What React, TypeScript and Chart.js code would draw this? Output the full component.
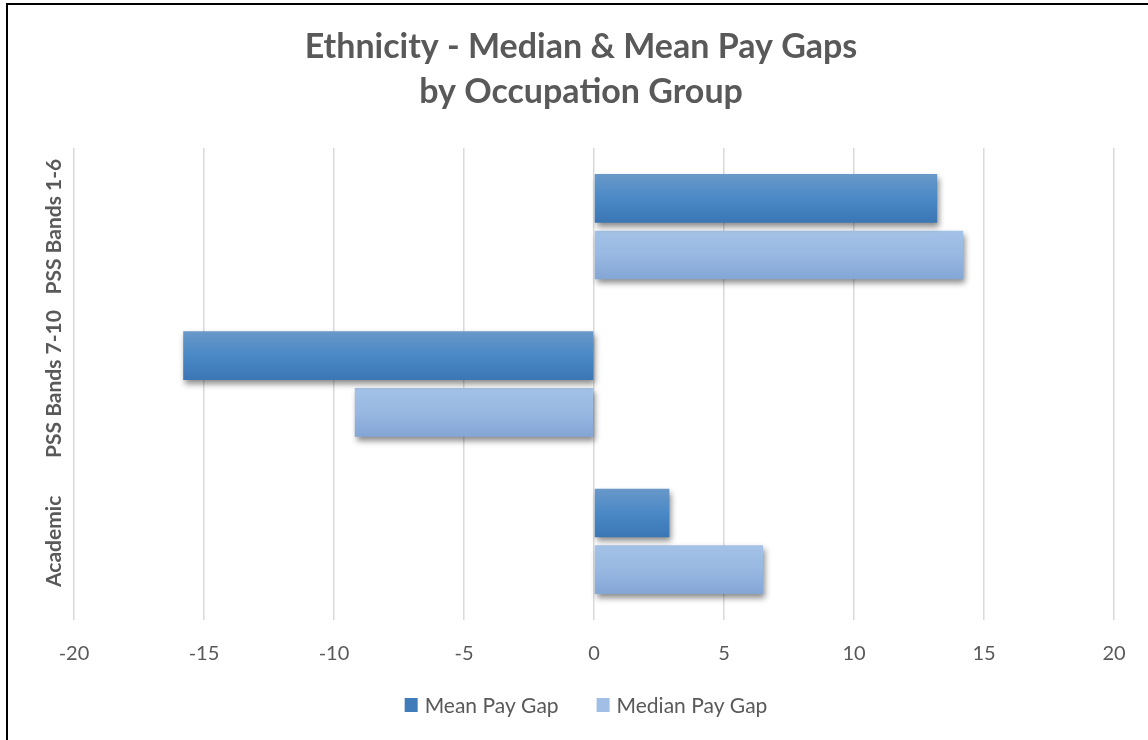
import React, { useEffect, useRef } from "react";
import { Chart, registerables } from "chart.js";

Chart.register(...registerables);

// Chart data
const categories = ["PSS Bands 1-6", "PSS Bands 7-10", "Academic"];
const meanPayGap = [13.2, -15.8, 2.9];
const medianPayGap = [14.2, -9.2, 6.5];
const seriesLabels = ["Mean Pay Gap", "Median Pay Gap"];
const titleLines = ["Ethnicity - Median & Mean Pay Gaps", "by Occupation Group"];
const axisMin = -20;
const axisMax = 20;
const axisStep = 5;

// Styling
const TEXT = "#595959";
const FONT = "Lato";
const SWATCH = ["#3f7cb9", "#a1bfe6"];
const GRADIENTS: [number, string][][] = [
  [
    [0, "#6a98c9"],
    [0.5, "#4a89c6"],
    [1, "#3a76b3"],
  ],
  [
    [0, "#a4c2e7"],
    [0.5, "#98b8e2"],
    [1, "#84a6d5"],
  ],
];

// Paints each bar with a vertical gradient and a soft drop shadow
const barStylePlugin = {
  id: "barStyle",
  beforeDatasetsDraw(chart: any) {
    const { ctx } = chart;
    chart.data.datasets.forEach((_ds: any, di: number) => {
      const meta = chart.getDatasetMeta(di);
      const stops = GRADIENTS[di];
      meta.data.forEach((el: any) => {
        const { y, height } = el.getProps(["y", "height"], true);
        const top = y - height / 2;
        const g = ctx.createLinearGradient(0, top, 0, top + height);
        stops.forEach(([o, c]) => g.addColorStop(o, c));
        el.options.backgroundColor = g;
      });
    });
    ctx.save();
    ctx.shadowColor = "rgba(0,0,0,0.45)";
    ctx.shadowBlur = 6;
    ctx.shadowOffsetX = 2;
    ctx.shadowOffsetY = 4;
  },
  afterDatasetsDraw(chart: any) {
    chart.ctx.restore();
  },
};

// Rotated, bold category labels along the left side
const categoryLabelPlugin = {
  id: "categoryLabels",
  afterDraw(chart: any) {
    const { ctx, chartArea } = chart;
    const yScale = chart.scales.y;
    ctx.save();
    ctx.fillStyle = TEXT;
    ctx.font = `bold 21px ${FONT}`;
    ctx.textAlign = "center";
    ctx.textBaseline = "middle";
    categories.forEach((label, i) => {
      const py = yScale.getPixelForValue(i);
      ctx.save();
      ctx.translate(chartArea.left - 20, py);
      ctx.rotate(-Math.PI / 2);
      ctx.fillText(label, 0, 0);
      ctx.restore();
    });
    ctx.restore();
  },
};

// Series legend centred under the axis
const bottomLegendPlugin = {
  id: "bottomLegend",
  afterDraw(chart: any) {
    const { ctx } = chart;
    const boxW = 13;
    const boxH = 14;
    const textGap = 7;
    const itemGap = 38;
    ctx.save();
    ctx.font = `21px ${FONT}`;
    ctx.textBaseline = "middle";
    ctx.textAlign = "left";
    const items = chart.data.datasets.map((ds: any, i: number) => ({
      label: ds.label as string,
      color: SWATCH[i],
      w: ctx.measureText(ds.label).width,
    }));
    const total =
      items.reduce((s: number, it: any) => s + boxW + textGap + it.w, 0) +
      itemGap * (items.length - 1);
    let x = chart.width / 2 - total / 2 + 5;
    const cy = chart.height - 39;
    items.forEach((it: any) => {
      ctx.fillStyle = it.color;
      ctx.fillRect(x, cy - boxH / 2, boxW, boxH);
      x += boxW + textGap;
      ctx.fillStyle = TEXT;
      ctx.fillText(it.label, x, cy + 1);
      x += it.w + itemGap;
    });
    ctx.restore();
  },
};

function PayGapChart() {
  const canvasRef = useRef<HTMLCanvasElement | null>(null);

  useEffect(() => {
    if (!canvasRef.current) return;
    Chart.defaults.font.family = FONT;
    const chart = new Chart(canvasRef.current, {
      type: "bar",
      data: {
        labels: categories,
        datasets: [
          {
            label: seriesLabels[0],
            data: meanPayGap,
            backgroundColor: () => SWATCH[0],
            borderWidth: 0,
            categoryPercentage: 0.72,
            barPercentage: 0.86,
          },
          {
            label: seriesLabels[1],
            data: medianPayGap,
            backgroundColor: () => SWATCH[1],
            borderWidth: 0,
            categoryPercentage: 0.72,
            barPercentage: 0.86,
          },
        ],
      },
      options: {
        indexAxis: "y",
        responsive: false,
        animation: false,
        devicePixelRatio: 1,
        layout: { padding: { left: 41, right: 41, top: 0, bottom: 56 } },
        scales: {
          x: {
            type: "linear",
            min: axisMin,
            max: axisMax,
            ticks: {
              stepSize: axisStep,
              color: TEXT,
              font: { size: 20, family: FONT },
              padding: 22,
            },
            grid: { color: "#d9d9d9", lineWidth: 1.5, drawTicks: false },
            border: { display: false },
          },
          y: {
            type: "category",
            ticks: { display: false },
            grid: { display: false, drawTicks: false },
            border: { display: false },
            afterFit(scale: any) {
              scale.width = 26;
            },
          },
        },
        plugins: {
          title: {
            display: true,
            text: titleLines,
            color: TEXT,
            font: { size: 34, weight: "bold", family: FONT, lineHeight: 1.324 },
            padding: { top: 21, bottom: 33 },
          },
          legend: { display: false },
          tooltip: { enabled: false },
        },
      } as any,
      plugins: [barStylePlugin, categoryLabelPlugin, bottomLegendPlugin],
    });
    return () => chart.destroy();
  }, []);

  return (
    <div
      style={{
        position: "fixed",
        left: 0,
        top: 0,
        width: 1148,
        height: 740,
        overflow: "hidden",
        background: "#ffffff",
      }}
    >
      <canvas
        ref={canvasRef}
        width={1148}
        height={740}
        style={{ position: "absolute", left: 7, top: 4, width: 1148, height: 740 }}
      />
      <div
        style={{
          position: "absolute",
          left: 6,
          top: 3,
          width: 2000,
          height: 2000,
          borderLeft: "2px solid #000",
          borderTop: "2px solid #000",
          pointerEvents: "none",
        }}
      />
    </div>
  );
}

export default function App() {
  return <PayGapChart />;
}
